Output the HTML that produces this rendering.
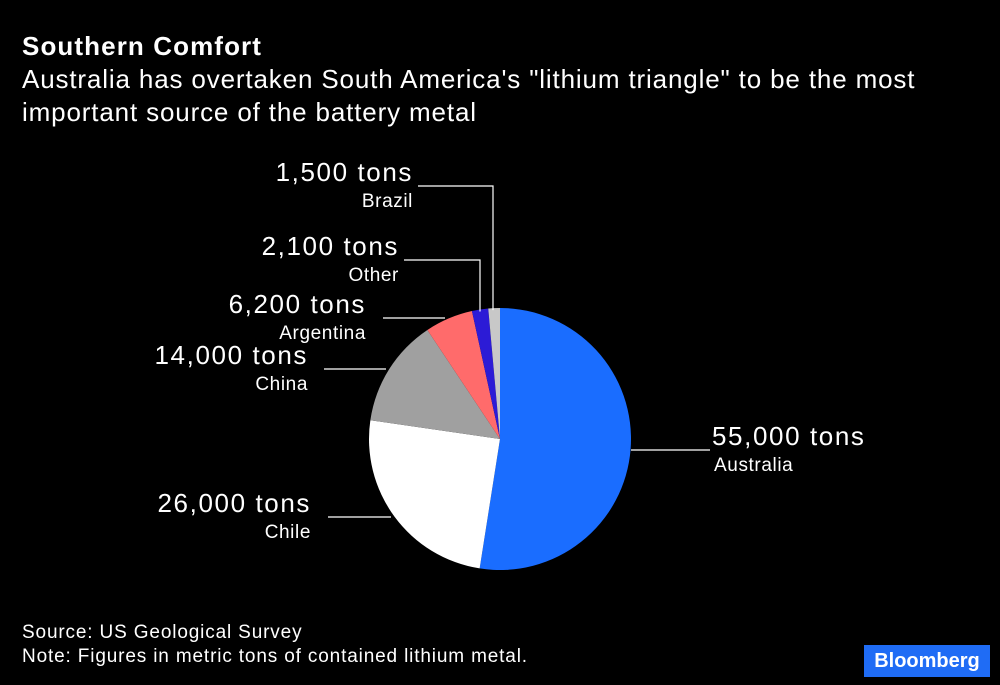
<!DOCTYPE html>
<html><head><meta charset="utf-8"><style>
body{margin:0;background:#000;width:1000px;height:685px;overflow:hidden;font-family:"Liberation Sans",sans-serif;color:#fff}
.t{position:absolute;left:22px;white-space:nowrap}
</style></head><body>
<div class="t" style="top:31px;font-size:26px;font-weight:bold;letter-spacing:1.1px">Southern Comfort</div>
<div class="t" style="top:63px;font-size:26px;line-height:33px;letter-spacing:0.85px">Australia has overtaken South America's "lithium triangle" to be the most<br>important source of the battery metal</div>
<svg id="pie" width="1000" height="685" style="position:absolute;left:0;top:0"></svg>
<div class="t" style="top:621px;font-size:19px;line-height:24px;letter-spacing:0.85px">Source: US Geological Survey<br>Note: Figures in metric tons of contained lithium metal.</div>
<div style="position:absolute;left:864px;top:645px;width:126px;height:32px;background:#1f6cf5;font-weight:bold;font-size:20px;line-height:32px;text-align:center">Bloomberg</div>
<script>
const categories=["Australia","Chile","China","Argentina","Other","Brazil"];
const values=[55000,26000,14000,6200,2100,1500];
const valueLabels=["55,000 tons","26,000 tons","14,000 tons","6,200 tons","2,100 tons","1,500 tons"];
const colors=["#1a6dff","#ffffff","#a0a0a0","#ff6b6b","#2c1bd6","#c8c8c8"];
const cx=500,cy=439,r=131;
const svg=document.getElementById('pie');const NS="http://www.w3.org/2000/svg";
const total=values.reduce((a,b)=>a+b,0);
function pt(a,rr){return [cx+rr*Math.sin(a),cy-rr*Math.cos(a)];}
let a0=0;const mids=[];
values.forEach((v,i)=>{
 const a1=a0+v/total*2*Math.PI;const p0=pt(a0,r),p1=pt(a1,r);
 const p=document.createElementNS(NS,'path');
 p.setAttribute('d',`M${cx},${cy}L${p0[0]},${p0[1]}A${r},${r} 0 ${a1-a0>Math.PI?1:0} 1 ${p1[0]},${p1[1]}Z`);
 p.setAttribute('fill',colors[i]);
 
 
 svg.appendChild(p);mids.push((a0+a1)/2);a0=a1;});
const lay=[[450,631,710,712,'start'],[517,328,391,311,'end'],[369,324,386,308,'end'],[318,383,445,366,'end'],[260,404,480,399,'end'],[186,418,493,413,'end']];
function add(tag,attrs,txt){const e=document.createElementNS(NS,tag);for(const k in attrs)e.setAttribute(k,attrs[k]);if(txt)e.textContent=txt;svg.appendChild(e);return e;}
categories.forEach((c,i)=>{
 const [ly,x1,x2,tx,an]=lay[i];
 let d=`M${x1},${ly}L${x2},${ly}`;
 if(i>=4){const p=pt(mids[i],r);d+=`L${x2},${p[1]+2}`;}
 const l=add('path',{d:d,stroke:'#fff','stroke-width':1.2,fill:'none'});
 
 
 const t1=add('text',{x:tx,y:ly-5,'text-anchor':an,'font-size':26,'letter-spacing':1.6,fill:'#fff'},valueLabels[i]);
 
 
 const t2=add('text',{x:tx+(an=='end'?0:2),y:ly+21,'text-anchor':an,'font-size':19,'letter-spacing':0.6,fill:'#fff'},c);
 
 
});
</script>
</body></html>
